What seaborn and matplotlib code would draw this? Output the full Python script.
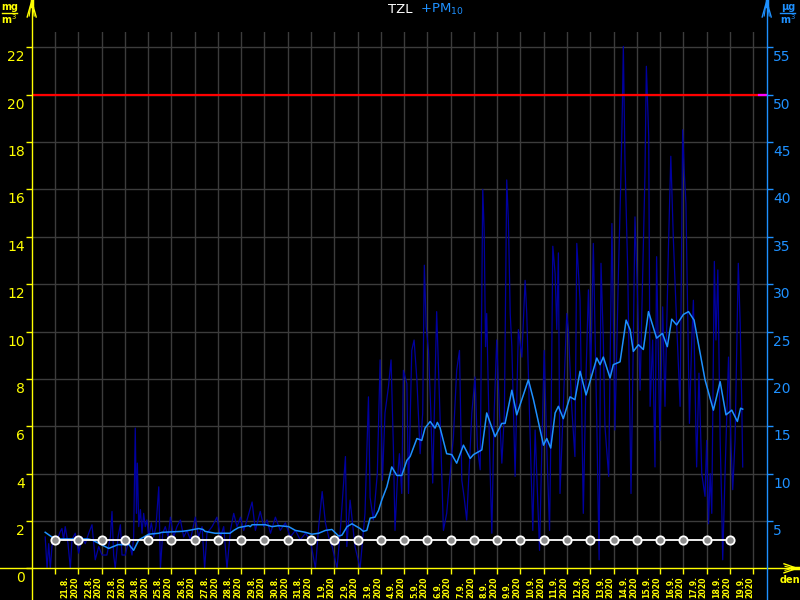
import matplotlib
matplotlib.use("Agg")
import matplotlib.pyplot as plt
import matplotlib.transforms as mtrans
from matplotlib.lines import Line2D
import seaborn as sns

# ---------------- data ----------------
day_labels = ["21.8.", "22.8.", "23.8.", "24.8.", "25.8.", "26.8.", "27.8.", "28.8.",
              "29.8.", "30.8.", "31.8.", "1.9.", "2.9.", "3.9.", "4.9.", "5.9.", "6.9.",
              "7.9.", "8.9.", "9.9.", "10.9.", "11.9.", "12.9.", "13.9.", "14.9.",
              "15.9.", "16.9.", "17.9.", "18.9.", "19.9."]
year_label = "2020"

# TZL daily values [mg/m3] (white line with markers), day index
tzl_day = [0, 1, 2, 3, 4, 5, 6, 7, 8, 9, 10, 11, 12, 13, 14,
           15, 16, 17, 18, 19, 20, 21, 22, 23, 24, 25, 26, 27, 28, 29]
tzl_values = [1.2, 1.2, 1.2, 1.2, 1.2, 1.2, 1.2, 1.2, 1.2, 1.2,
              1.2, 1.2, 1.2, 1.2, 1.2, 1.2, 1.2, 1.2, 1.2, 1.2,
              1.2, 1.2, 1.2, 1.2, 1.2, 1.2, 1.2, 1.2, 1.2, 1.2]

# PM10 raw measurements [ug/m3], time in days from 21.8.2020
pm10_raw_t = [-0.42, -0.34, -0.27, -0.20, -0.13, -0.06, 0.09, 0.23, 0.30, 0.37, 0.44, 0.56,
              0.66, 0.73, 0.87, 1.02, 1.16, 1.30, 1.45, 1.59, 1.73, 1.88, 2.02, 2.23, 2.38,
              2.45, 2.52, 2.59, 2.71, 2.81, 2.88, 3.02, 3.17, 3.31, 3.38, 3.45, 3.50, 3.54,
              3.60, 3.67, 3.74, 3.81, 3.88, 3.95, 4.03, 4.14, 4.24, 4.34, 4.46, 4.53, 4.63,
              4.74, 4.86, 4.96, 5.10, 5.24, 5.39, 5.53, 5.67, 5.82, 6.03, 6.17, 6.32, 6.43,
              6.53, 6.75, 6.96, 7.11, 7.25, 7.39, 7.54, 7.68, 7.82, 7.97, 8.11, 8.25, 8.47,
              8.61, 8.82, 8.97, 9.11, 9.26, 9.47, 9.68, 9.90, 10.11, 10.33, 10.54, 10.76,
              10.97, 11.19, 11.33, 11.48, 11.62, 11.76, 11.91, 12.12, 12.26, 12.48,
              12.54, 12.68, 12.89, 13.11, 13.32, 13.47, 13.54, 13.68, 13.85, 13.97, 14.07,
              14.18, 14.33, 14.44, 14.54, 14.61, 14.71, 14.80, 14.90, 14.97, 15.12, 15.19,
              15.33, 15.43, 15.55, 15.69, 15.80, 15.87, 15.95, 16.05, 16.15, 16.23, 16.40,
              16.55, 16.69, 16.83, 16.98, 17.12, 17.26, 17.38, 17.48, 17.58, 17.69, 17.81,
              17.91, 18.05, 18.15, 18.27, 18.38, 18.44, 18.50, 18.55, 18.67, 18.77, 18.87,
              18.98, 19.10, 19.20, 19.31, 19.41, 19.48, 19.56, 19.63, 19.77, 19.91, 20.06,
              20.20, 20.27, 20.34, 20.53, 20.63, 20.70, 20.82, 20.92, 21.02, 21.13, 21.25,
              21.32, 21.39, 21.49, 21.56, 21.63,
              21.70, 21.84, 21.99, 22.06, 22.20, 22.34, 22.42, 22.56, 22.70, 22.82, 22.92,
              23.02, 23.13, 23.28, 23.38, 23.46, 23.56, 23.63, 23.79, 23.93, 24.06, 24.21,
              24.31, 24.38, 24.42, 24.49, 24.61, 24.75, 24.85, 24.92, 25.02, 25.14, 25.28,
              25.35, 25.41, 25.51, 25.57, 25.68, 25.78, 25.85, 25.99, 26.11, 26.21, 26.36,
              26.46, 26.57, 26.71, 26.86, 26.97, 27.04, 27.11, 27.26, 27.36, 27.43, 27.57,
              27.67, 27.79, 27.93, 28.00, 28.08, 28.15, 28.22, 28.33, 28.40, 28.48, 28.58,
              28.65, 28.69, 28.79, 28.94, 29.04, 29.12, 29.22, 29.36, 29.44, 29.51, 29.55]
pm10_raw = [3.3, 0.0, 2.6, 0.0, 2.3, 3.3, 3.0, 3.9, 4.2, 3.0, 4.4, 2.6,
            0.0, 3.0, 3.7, 1.6, 3.3, 2.6, 3.7, 4.6, 0.9, 2.3, 1.4, 1.4, 3.3,
            6.0, 1.4, 0.0, 3.3, 4.6, 1.4, 1.4, 3.0, 1.4, 3.3, 14.8, 5.8, 11.1,
            4.4, 6.2, 3.7, 5.8, 4.4, 5.1, 3.3, 4.8, 3.3, 4.4, 8.6, 0.0, 3.7,
            4.4, 3.3, 5.4, 3.3, 4.4, 5.1, 3.3, 4.0, 3.0, 5.4, 3.3, 4.4, 0.0,
            3.7, 4.4, 5.4, 3.3, 4.4, 0.0, 4.0, 5.8, 4.4, 5.4, 4.0, 5.1, 7.0,
            4.0, 6.0, 4.4, 5.1, 3.7, 5.4, 4.0, 4.8, 3.3, 4.0, 3.0, 3.7,
            3.0, 0.0, 4.4, 8.1, 4.8, 3.3, 2.3, 0.0, 4.0, 11.8,
            2.3, 7.2, 2.3, 0.0, 5.8, 18.1, 7.5, 5.1, 10.0, 22.0, 9.3,
            16.4, 19.2, 22.0, 12.8, 4.0, 9.3, 12.1, 7.9, 20.9, 19.5, 7.9,
            23.0, 24.1, 19.9, 12.1, 16.4, 32.0, 25.5, 23.0, 16.4, 9.0, 27.1,
            15.6, 4.0, 5.8, 10.0, 13.9, 20.9, 23.0, 9.3, 7.5, 5.1, 11.1,
            16.4, 20.2, 12.8, 10.4, 40.0, 35.7, 23.4, 26.9, 12.8, 3.7, 16.4,
            24.1, 16.4, 11.1, 16.4, 41.0, 36.8, 26.9, 23.4, 9.7, 25.2, 22.3,
            30.4, 26.9, 20.6, 4.0, 14.6, 10.0, 1.9, 12.8, 23.0, 12.8, 4.0,
            16.4, 34.0, 31.1, 25.2, 33.3,
            7.9, 17.1, 26.9, 25.2, 17.1, 11.8, 34.3, 28.3, 5.8, 20.6, 29.4,
            20.6, 34.3, 15.3, 0.9, 32.2, 24.1, 15.0, 9.7, 36.4, 14.6, 31.2,
            40.7, 48.8, 55.1, 43.1, 31.2, 7.9, 24.1, 37.1, 29.7, 18.8, 34.0,
            41.7, 53.0, 45.6, 17.1, 24.1, 10.7, 32.9, 13.5, 27.6, 17.1, 34.0,
            43.5, 34.7, 25.9, 17.1, 46.3, 41.7, 38.5, 15.3, 24.1, 28.3, 10.7,
            20.6, 10.0, 7.6, 13.5, 4.7, 10.0, 5.8, 32.4, 24.1, 31.5, 13.5,
            6.5, 0.9, 10.0, 22.3, 13.5, 8.3, 13.5, 32.2, 25.9, 17.1, 10.7]

# PM10 smoothed (light blue) [ug/m3]
pm10_avg_t = [-0.42, -0.13, 0.00, 1.42, 1.59, 2.31, 2.71, 3.18, 3.38, 3.60, 4.03, 4.46,
              4.60, 5.46, 5.75, 6.18, 6.36, 6.45, 6.88, 7.52, 7.68, 7.89, 8.32, 8.39,
              8.47, 9.04, 9.33, 9.61, 10.04, 10.33, 10.76, 11.04, 11.33, 11.62, 11.90,
              12.19, 12.33, 12.55, 12.76, 12.97, 13.11, 13.25, 13.40, 13.54, 13.75, 13.90,
              14.04, 14.26, 14.47, 14.69, 14.90, 15.12, 15.26, 15.55, 15.76, 15.90, 16.12,
              16.33, 16.43, 16.55, 16.83, 17.05, 17.26, 17.55, 17.84, 17.98, 18.34, 18.55,
              18.91, 19.20, 19.34, 19.63, 19.84, 20.34, 20.56, 20.99, 21.13, 21.30, 21.49,
              21.63, 21.84, 22.13, 22.34, 22.56, 22.82, 23.28, 23.42, 23.56, 23.85, 23.99,
              24.28, 24.54, 24.71, 24.85, 25.07, 25.28, 25.50, 25.85, 26.10, 26.31, 26.50,
              26.71, 27.00, 27.22, 27.46, 27.93, 28.29, 28.58, 28.83, 29.08, 29.32, 29.46,
              29.55]
pm10_avg = [3.8, 3.3, 3.1, 3.1, 3.0, 2.1, 2.5, 2.5, 1.9, 3.0, 3.6, 3.7,
            3.8, 3.9, 4.0, 4.2, 4.1, 3.9, 3.7, 3.7, 4.0, 4.3, 4.5, 4.4,
            4.6, 4.6, 4.4, 4.5, 4.4, 4.0, 3.8, 3.6, 3.7, 4.0, 4.1,
            3.4, 3.5, 4.4, 4.7, 4.4, 4.2, 3.9, 4.0, 5.3, 5.4, 6.1,
            7.2, 8.6, 10.7, 9.8, 9.8, 11.4, 11.8, 13.7, 13.5, 14.8, 15.5,
            14.8, 15.4, 14.8, 12.1, 12.0, 11.1, 13.0, 11.6, 12.0, 12.5, 16.4,
            13.9, 15.3, 15.3, 18.8, 16.2, 19.9, 17.8, 13.0, 13.7, 12.7, 16.4,
            17.1, 15.8, 18.1, 17.8, 20.8, 18.3, 22.2, 21.5, 22.3, 20.1, 21.5,
            21.8, 26.2, 25.2, 22.9, 23.6, 23.1, 27.1, 24.3, 24.8, 23.4, 26.3,
            25.7, 26.8, 27.1, 26.2, 19.9, 16.7, 19.7, 16.2, 16.7, 15.5, 16.9,
            16.8]

pm10_limit = 50        # ug/m3
left_ticks = [0, 2, 4, 6, 8, 10, 12, 14, 16, 18, 20, 22]       # mg/m3
right_ticks = [5, 10, 15, 20, 25, 30, 35, 40, 45, 50, 55]      # ug/m3

# ---------------- style ----------------
YEL = "#ffff00"
BLUE = "#1e90ff"
NAVY = "#0000a0"
GRID = "#3c3c3c"
W, H = 800, 600
L, R, T, B = 31.7, 766.7, 32.0, 568.3

fig = plt.figure(figsize=(8, 6), dpi=100, facecolor="black")
axP = fig.add_axes([L / W, 1 - B / H, (R - L) / W, (B - T) / H])
axP.set_facecolor("black")
axT = axP.twinx()
axT.patch.set_visible(False)

sns.lineplot(x=pm10_raw_t, y=pm10_raw, ax=axP, color=NAVY, lw=0.9, zorder=2)
sns.lineplot(x=pm10_avg_t, y=pm10_avg, ax=axP, color=BLUE, lw=1.1, zorder=3)
axP.axhline(pm10_limit, color="#ff0000", lw=1.6, zorder=4)
axP.axhline(pm10_limit, xmin=0.99, xmax=1.0, color="#ff00ff", lw=1.6, zorder=5)
sns.lineplot(x=tzl_day, y=tzl_values, ax=axT, color="white", lw=1.3, marker="o",
             markersize=6, markerfacecolor="#8c8c8c", markeredgecolor="white",
             markeredgewidth=1.3, zorder=5)

axP.set_xlim(-1.0, 30.58)
axP.set_ylim(0, 56.62)
axT.set_ylim(0, 22.65)

for a in (axP, axT):
    for s in a.spines.values():
        s.set_visible(False)
    a.set_xlabel("")
    a.set_ylabel("")

# x ticks: day boundaries (major) and labels between them (minor)
axP.set_xticks(list(range(len(day_labels) + 1)))
axP.set_xticklabels([])
axP.set_xticks([i + 0.5 for i in range(len(day_labels))], minor=True)
axP.set_xticklabels([f"{d}\n{year_label}" for d in day_labels], minor=True,
                    rotation=90, fontsize=5.6, color=YEL, linespacing=1.1,
                    multialignment="left", fontweight="bold", va="bottom")
axP.tick_params(axis="x", which="major", length=4, width=1, color=YEL, direction="out")
axP.tick_params(axis="x", which="minor", length=0, pad=21.5)

# y ticks
axP.yaxis.tick_right()
axT.yaxis.tick_left()
axP.set_yticks(right_ticks)
axP.set_yticklabels([str(v) for v in right_ticks])
axT.set_yticks(left_ticks)
axT.set_yticklabels([str(v) for v in left_ticks])
axP.tick_params(axis="y", length=4, width=1, color=BLUE, labelcolor=BLUE,
                labelsize=10, pad=0.5, direction="out")
axT.tick_params(axis="y", length=4, width=1, color=YEL, labelcolor=YEL,
                labelsize=10, pad=1, direction="out")

axP.grid(True, which="major", color=GRID, lw=1.0)
axP.set_axisbelow(True)
axT.grid(False)

shift = mtrans.ScaledTranslation(0, -3 / 100, fig.dpi_scale_trans)
for lbl in axP.get_yticklabels() + axT.get_yticklabels():
    lbl.set_va("top")
    lbl.set_transform(lbl.get_transform() + shift)
xshift = mtrans.ScaledTranslation(3.5 / 100, 0, fig.dpi_scale_trans)
for lbl in axP.get_xticklabels(minor=True):
    lbl.set_va("bottom")
    lbl.set_transform(lbl.get_transform() + xshift)


# ---------------- axis lines and arrows (figure pixels) ----------------
def fline(xs, ys, color, lw=1.0):
    fig.add_artist(Line2D([x / W for x in xs], [1 - y / H for y in ys],
                          color=color, lw=lw, transform=fig.transFigure))


fline([L, L], [0, H], YEL)
fline([0, 797], [B, B], YEL)
fline([R, R], [0, H], BLUE)
for cx, col in ((L, YEL), (R, BLUE)):
    fline([cx, cx - 4.5], [1, 17], col)
    fline([cx, cx + 4.5], [1, 17], col)
    fline([cx - 1, cx - 2.5], [5, 16], col, 0.8)
    fline([cx + 1, cx + 2.5], [5, 16], col, 0.8)
    fline([cx, cx], [0, 6], col, 2.5)
fline([797, 784], [B, B - 4.5], YEL)
fline([797, 784], [B, B + 4.5], YEL)
fline([793, 785], [B, B - 2], YEL, 0.8)
fline([793, 785], [B, B + 2], YEL, 0.8)
fline([792, 798], [B, B], YEL, 2.5)

# units
fig.text(9.5 / W, 1 - 7.5 / H, "mg", color=YEL, fontsize=7, ha="center", va="center",
         fontweight="bold")
fline([2, 17], [13.3, 13.3], YEL)
fig.text(9.5 / W, 1 - 19.5 / H, "m$^3$", color=YEL, fontsize=7, ha="center", va="center",
         fontweight="bold")
fig.text(788 / W, 1 - 7.5 / H, "µg", color=BLUE, fontsize=7, ha="center", va="center",
         fontweight="bold")
fline([780, 795], [13.3, 13.3], BLUE)
fig.text(788 / W, 1 - 19.5 / H, "m$^3$", color=BLUE, fontsize=7, ha="center", va="center",
         fontweight="bold")
fig.text(790 / W, 1 - 580 / H, "den", color=YEL, fontsize=7, ha="center", va="center",
         fontweight="bold")

# title
fig.text(388 / W, 1 - 12.7 / H, "TZL", color="white", fontsize=9.5, ha="left",
         va="baseline")
fig.text(420 / W, 1 - 12.7 / H, "+PM$_{10}$", color=BLUE, fontsize=9.5, ha="left",
         va="baseline")

fig.savefig("out.png", dpi=100, facecolor="black")
